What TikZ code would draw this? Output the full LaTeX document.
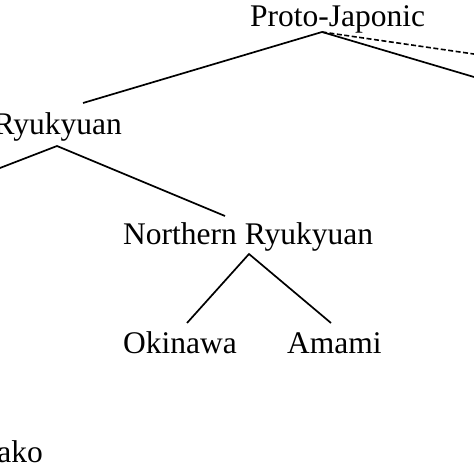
\documentclass[tikz,border=0pt]{standalone}
\usepackage{fontspec}
\setmainfont{Liberation Serif}
\begin{document}
\begin{tikzpicture}[x=1pt,y=1pt,
  lang/.style={inner sep=0pt,font=\fontsize{31.5}{36}\selectfont},
  branch/.style={line width=1.7pt},
  dashbranch/.style={line width=1.6pt,dash pattern=on 5pt off 2.5pt}]
\useasboundingbox (0,0) rectangle (474,474);
\clip (0,0) rectangle (474,474);
% nodes
\node[lang,anchor=base west] (pj) at (250,447) {Proto-Japonic};
\node[lang,anchor=base west] (ryu) at (-6.5,339) {Ryukyuan};
\node[lang,anchor=base west] (nr) at (123,229) {Northern Ryukyuan};
\node[lang,anchor=base west] (oki) at (123,120) {Okinawa};
\node[lang,anchor=base west] (ama) at (287,120) {Amami};
\node[lang,anchor=base east] (miy) at (43,11) {Miyako};
% branch points
\coordinate (pjb) at (322,442);
\coordinate (pjl) at (83,371);
\coordinate (pjr) at (500,389.3);
\coordinate (pjd) at (500,416.2);
\coordinate (ryub) at (57,328);
\coordinate (ryul) at (-20,298.3);
\coordinate (ryur) at (225,258);
\coordinate (nrb) at (249,220);
\coordinate (nrl) at (187,151);
\coordinate (nrr) at (331,151);
% connectors
\draw[branch] (pjl) -- (pjb) -- (pjr);
\draw[dashbranch] (pjb) -- (pjd);
\draw[branch] (ryul) -- (ryub) -- (ryur);
\draw[branch] (nrl) -- (nrb) -- (nrr);
\end{tikzpicture}
\end{document}
